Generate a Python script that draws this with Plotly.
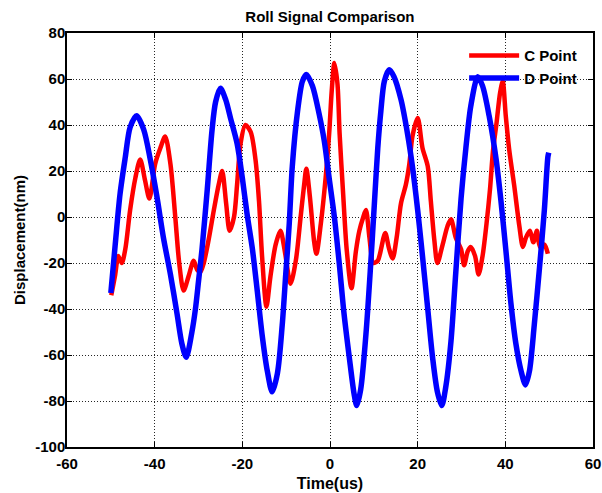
import plotly.graph_objects as go

# ---- data ----
c_time = [-49.9, -49.0, -48.3, -47.5, -46.7, -45.6, -44.4, -43.3, -42.2, -41.2,
          -39.9, -38.7, -37.6, -36.4, -35.3, -34.4, -33.4, -32.3, -31.1, -30.3,
          -29.6, -28.8, -27.7, -26.5, -25.4, -24.6, -23.7, -22.9, -21.9, -21.2,
          -20.4, -19.3, -18.1, -17.0, -16.2, -15.5, -14.5, -13.6, -12.4, -11.3,
          -10.3, -9.0, -7.8, -6.7, -5.9, -5.4, -4.6, -3.6, -3.1, -2.1,
          -1.0, -0.2, 0.4, 1.0, 1.7, 2.2, 3.0, 3.8, 4.9, 5.9,
          6.7, 7.6, 8.2, 9.0, 9.9, 10.9, 11.4, 12.6, 13.5, 14.3,
          15.2, 16.2, 17.3, 18.1, 18.8, 20.0, 21.1, 22.3, 23.0, 23.8,
          24.5, 25.7, 26.8, 27.6, 28.7, 29.9, 30.6, 31.4, 32.1, 33.1,
          33.9, 34.8, 35.7, 36.5, 37.2, 38.0, 38.8, 39.4, 40.1, 40.9,
          42.0, 43.2, 44.0, 44.7, 45.6, 46.4, 47.2, 47.9, 48.9, 49.7]
c_disp = [-34, -25, -17, -20, -14, 3, 17, 25, 16, 8,
          23, 30, 35, 23, 0, -20, -32, -26, -19, -23,
          -24, -20, -10, 3, 14, 20, 6, -6, 0, 14,
          32, 40, 37, 25, 7, -17, -39, -26, -12, -6,
          -15, -29, -19, 0, 14, 21, 9, -11, -16, -3,
          17, 36, 55, 67, 58, 36, 10, -14, -31, -15,
          -6, 0, 3, -9, -20, -19, -16, -7, -14, -18,
          -9, 6, 14, 23, 35, 43, 30, 22, 7, -10,
          -20, -12, -4, -1, -9, -14, -21, -15, -13, -17,
          -25, -17, -3, 12, 29, 41, 54, 59, 44, 29,
          14, -4, -13, -9, -6, -11, -6, -13, -12, -16]

d_time = [-50.0, -49.0, -47.9, -46.7, -45.6, -44.1, -42.5, -41.0, -39.5, -38.0,
          -36.4, -34.9, -33.8, -32.8, -31.5, -30.7, -30.0, -29.2, -28.0, -26.9,
          -26.1, -25.0, -23.8, -22.7, -21.2, -20.0, -18.9, -17.7, -16.6, -15.5,
          -14.3, -13.2, -12.0, -10.9, -10.1, -9.3, -8.6, -7.4, -6.3, -5.4,
          -4.0, -2.5, -1.3, -0.2, 1.0, 2.1, 3.2, 4.4, 5.5, 6.1,
          7.0, 8.2, 9.3, 10.1, 10.9, 11.6, 12.4, 13.5, 14.6, 16.2,
          17.7, 18.8, 20.0, 21.1, 22.3, 23.4, 24.5, 25.5, 26.4, 27.6,
          28.7, 29.9, 31.0, 32.1, 33.7, 34.8, 36.3, 37.9, 39.0, 40.1,
          41.3, 42.4, 43.6, 44.6, 45.5, 46.6, 47.8, 48.9, 49.7, 49.9]
d_disp = [-33, -12, 10, 26, 39, 44, 38, 25, 9, -9,
          -25, -42, -55, -61, -50, -40, -28, -14, 12, 38,
          50, 56, 51, 43, 32, 17, 1, -14, -32, -51,
          -67, -76, -68, -47, -25, -3, 22, 46, 59, 62,
          57, 45, 33, 17, 0, -20, -42, -61, -77, -82,
          -75, -51, -20, 5, 30, 46, 59, 64, 61, 51,
          36, 22, 3, -17, -40, -61, -76, -82, -74, -54,
          -24, 8, 30, 48, 61, 57, 44, 25, 7, -14,
          -38, -55, -67, -73, -67, -47, -22, 3, 26, 28]

x_ticks = [-60, -40, -20, 0, 20, 40, 60]
x_tick_labels = ["-60", "-40", "-20", "0", "20", "40", "60"]
y_ticks = [-100, -80, -60, -40, -20, 0, 20, 40, 60, 80]
y_tick_labels = ["-100", "-80", "-60", "-40", "-20", "0", "20", "40", "60", "80"]

FONT = "Liberation Sans, Arial, Helvetica, sans-serif"

fig = go.Figure()
fig.add_trace(go.Scatter(x=c_time, y=c_disp, mode="lines", name="C Point",
                         line=dict(color="#ff0000", width=4.5, shape="spline",
                                   smoothing=0.8)))
fig.add_trace(go.Scatter(x=d_time, y=d_disp, mode="lines", name="D Point",
                         line=dict(color="#0000ff", width=5.5, shape="spline",
                                   smoothing=0.8)))

axis_common = dict(
    showgrid=True, gridcolor="rgba(0,0,0,0.85)", gridwidth=1, griddash="1px,2px",
    showline=True, linecolor="black", linewidth=1.5, mirror="ticks",
    ticks="inside", ticklen=5, tickcolor="black", zeroline=False,
    automargin=False,
    tickfont=dict(family=FONT, size=15, color="black", weight="bold"),
)

fig.update_layout(
    width=602, height=493,
    paper_bgcolor="white", plot_bgcolor="white",
    margin=dict(l=67, r=9, t=33, b=46, autoexpand=False),
    font=dict(family=FONT, size=15, color="black", weight="bold"),
    title=dict(text="Roll Signal Comparison", x=0.548, xanchor="center",
               y=1 - 17 / 493, yanchor="middle",
               font=dict(family=FONT, size=15, color="black", weight="bold")),
    xaxis=dict(range=[-60, 60], tickvals=x_ticks, ticktext=x_tick_labels,
               ticklabelstandoff=2,
               title=dict(text="Time(us)", standoff=7,
                          font=dict(family=FONT, size=16, weight="bold")),
               **axis_common),
    yaxis=dict(range=[-100, 80], tickvals=y_ticks, ticktext=y_tick_labels,
               ticklabelstandoff=-3,
               title=dict(text="Displacement(nm)", standoff=6,
                          font=dict(family=FONT, size=15, weight="bold")),
               **axis_common),
    legend=dict(x=0.755, y=0.985, xanchor="left", yanchor="top",
                bgcolor="rgba(0,0,0,0)", borderwidth=0, itemwidth=50,
                font=dict(family=FONT, size=15, color="black", weight="bold")),
    showlegend=True,
)

fig.write_html(
    "out.html",
    config={"displayModeBar": False},
    post_script="document.body.style.margin='0';document.body.style.overflow='hidden';",
)
